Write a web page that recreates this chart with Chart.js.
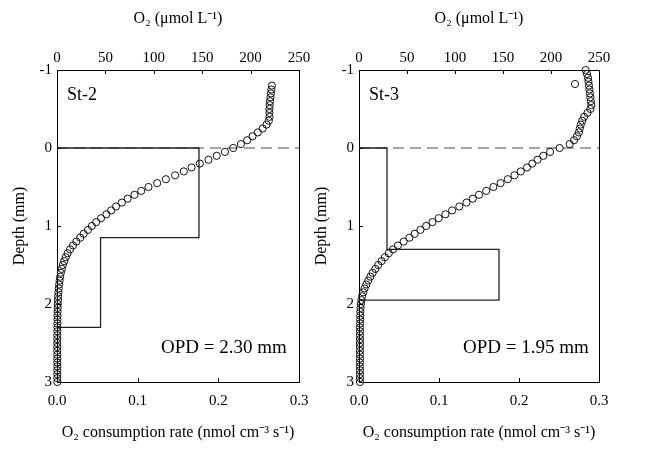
<!DOCTYPE html>
<html>
<head>
<meta charset="utf-8">
<script src="https://cdn.jsdelivr.net/npm/chart.js@4.4.1/dist/chart.umd.min.js"></script>
<style>
  html, body { margin: 0; padding: 0; background: #fff; }
  #wrap { position: relative; width: 646px; height: 451px; overflow: hidden; }
  canvas { position: absolute; top: 0; }
</style>
</head>
<body>
<div id="wrap">
  <canvas id="st2" width="322" height="451" style="left:0px"></canvas>
  <canvas id="st3" width="346" height="451" style="left:300px"></canvas>
</div>
<script>
// axis ranges
const depthRange = [-1, 3];
const o2Range = [0, 250];
const rateRange = [0, 0.3];

// St-2 O2 profile (depth mm, O2 umol/L)
const st2Depth = [
  -0.80, -0.75, -0.70, -0.65, -0.60, -0.55, -0.50, -0.45, -0.40, -0.35, -0.30, -0.25, -0.20, -0.15, -0.10, -0.05,
  0.00, 0.05, 0.10, 0.15, 0.20, 0.25, 0.30, 0.35, 0.40, 0.45, 0.50, 0.55, 0.60, 0.65, 0.70, 0.75, 0.80, 0.85, 0.90, 0.95,
  1.00, 1.05, 1.10, 1.15, 1.20, 1.25, 1.30, 1.35, 1.40, 1.45, 1.50, 1.55, 1.60, 1.65, 1.70, 1.75, 1.80, 1.85, 1.90, 1.95,
  2.00, 2.05, 2.10, 2.15, 2.20, 2.25, 2.30, 2.35, 2.40, 2.45, 2.50, 2.55, 2.60, 2.65, 2.70, 2.75, 2.80, 2.85, 2.90, 2.95,
  3.00
];
const st2O2 = [
  222, 221.5, 221, 220.5, 220, 219.7, 219.4, 219.4, 219.6, 218.8, 216.5, 212.5, 207.5, 202, 196.5, 190,
  182, 173.5, 165, 156.5, 147.5, 139, 131, 122, 112.5, 103.5, 94.5, 87, 80, 73, 67, 61, 56, 51, 45.5, 40.5,
  36, 32, 27.5, 24, 20, 16.5, 13.5, 11, 9, 7.5, 6, 5, 4, 3.3, 2.7, 2.2, 1.8, 1.5, 1.2, 1.0,
  0.8, 0.7, 0.6, 0.5, 0.5, 0.4, 0.4, 0.4, 0.3, 0.3, 0.3, 0.3, 0.3, 0.3, 0.3, 0.3, 0.3, 0.3, 0.3, 0.3,
  0.3
];
// St-2 consumption zones
const st2ZoneTop = [0, 1.15];
const st2ZoneBottom = [1.15, 2.30];
const st2ZoneRate = [0.176, 0.054];
const st2OPD = 2.30;

// St-3 O2 profile (last point is the odd one near the top)
const st3Depth = [
  -1.00, -0.95, -0.90, -0.85, -0.80, -0.75, -0.70, -0.65, -0.60, -0.55, -0.50, -0.45, -0.40, -0.35, -0.30, -0.25, -0.20, -0.15, -0.10, -0.05,
  0.00, 0.05, 0.10, 0.15, 0.20, 0.25, 0.30, 0.35, 0.40, 0.45, 0.50, 0.55, 0.60, 0.65, 0.70, 0.75, 0.80, 0.85, 0.90, 0.95,
  1.00, 1.05, 1.10, 1.15, 1.20, 1.25, 1.30, 1.35, 1.40, 1.45, 1.50, 1.55, 1.60, 1.65, 1.70, 1.75, 1.80, 1.85, 1.90, 1.95,
  2.00, 2.05, 2.10, 2.15, 2.20, 2.25, 2.30, 2.35, 2.40, 2.45, 2.50, 2.55, 2.60, 2.65, 2.70, 2.75, 2.80, 2.85, 2.90, 2.95,
  3.00, -0.82
];
const st3O2 = [
  236, 237.5, 238.5, 239, 239.5, 240, 240.5, 241, 241.5, 242, 241, 238, 234.5, 232.5, 231, 230, 229, 227, 224, 219.5,
  209, 199, 192, 186, 180.5, 175, 168.5, 162, 155, 147.5, 140, 132.5, 125, 118.5, 112, 104.5, 97, 90, 83, 76.5,
  70, 64, 58, 52.5, 46.5, 40.5, 35.5, 31, 27, 23.5, 20, 17, 14.2, 11.8, 9.6, 7.6, 5.8, 4.4, 3.3, 2.5,
  1.9, 1.6, 1.4, 1.3, 1.2, 1.1, 1.0, 1.0, 1.0, 1.0, 1.0, 1.0, 1.0, 1.0, 1.0, 1.0, 1.0, 1.0, 1.0, 1.0,
  1.0, 225
];
const st3ZoneTop = [0, 1.30];
const st3ZoneBottom = [1.30, 1.95];
const st3ZoneRate = [0.035, 0.175];
const st3OPD = 1.95;

const sedimentSurface = 0;

const SERIF = '"Liberation Serif", "Times New Roman", serif';

// short tick marks pointing into the plot
const innerTicks = {
  id: 'innerTicks',
  afterDraw(chart) {
    const {ctx, chartArea: a, scales} = chart;
    const len = 4;
    ctx.save();
    ctx.strokeStyle = '#000';
    ctx.lineWidth = 1;
    ctx.beginPath();
    scales.x.ticks.forEach(t => {
      const p = Math.round(scales.x.getPixelForValue(t.value)) + 0.5;
      if (p <= a.left + 2 || p >= a.right - 2) return;
      ctx.moveTo(p, a.bottom); ctx.lineTo(p, a.bottom - len);
    });
    scales.x2.ticks.forEach(t => {
      const p = Math.round(scales.x2.getPixelForValue(t.value)) + 0.5;
      if (p <= a.left + 2 || p >= a.right - 2) return;
      ctx.moveTo(p, a.top); ctx.lineTo(p, a.top + len);
    });
    scales.y.ticks.forEach(t => {
      const p = Math.round(scales.y.getPixelForValue(t.value)) + 0.5;
      if (p <= a.top + 2 || p >= a.bottom - 2) return;
      ctx.moveTo(a.left, p); ctx.lineTo(a.left + len, p);
    });
    ctx.stroke();
    ctx.restore();
  }
};

// station name and OPD text
const panelText = {
  id: 'panelText',
  afterDraw(chart, args, o) {
    const {ctx, chartArea: a} = chart;
    ctx.save();
    ctx.fillStyle = '#000';
    ctx.textBaseline = 'alphabetic';
    ctx.font = '18px ' + SERIF;
    ctx.fillText(o.station, a.left + 10, a.top + 30);
    ctx.font = '19px ' + SERIF;
    ctx.fillText('OPD = ' + o.opd.toFixed(2) + ' mm', a.left + 104, a.bottom - 29);
    ctx.restore();
  }
};

function stepPoints(tops, bottoms, rates) {
  const pts = [{x: 0, y: tops[0]}];
  rates.forEach((r, i) => {
    pts.push({x: r, y: tops[i]});
    pts.push({x: r, y: bottoms[i]});
  });
  pts.push({x: 0, y: bottoms[bottoms.length - 1]});
  return pts;
}

function makePanel(id, p) {
  const tickFont = {family: SERIF, size: 15};
  const titleFont = {family: SERIF, size: 16};
  return new Chart(document.getElementById(id), {
    type: 'scatter',
    data: {
      datasets: [
        {
          data: p.depth.map((d, i) => ({x: p.o2[i], y: d})),
          xAxisID: 'x2', yAxisID: 'y',
          pointRadius: 3.6, pointBorderWidth: 1,
          borderColor: '#111', backgroundColor: 'rgba(0,0,0,0)',
          clip: false, order: 0
        },
        {
          data: stepPoints(p.zoneTop, p.zoneBottom, p.zoneRate),
          xAxisID: 'x', yAxisID: 'y',
          showLine: true, pointRadius: 0,
          borderColor: '#222', borderWidth: 1.3, order: 1
        },
        {
          data: [{x: rateRange[0], y: sedimentSurface}, {x: rateRange[1], y: sedimentSurface}],
          xAxisID: 'x', yAxisID: 'y',
          showLine: true, pointRadius: 0,
          borderColor: '#4a4a4a', borderWidth: 1, borderDash: [11, 6], order: 2
        }
      ]
    },
    options: {
      responsive: false,
      animation: false,
      events: [],
      layout: {padding: {left: 0, right: p.padRight, top: 0, bottom: 0}},
      plugins: {
        legend: {display: false},
        tooltip: {enabled: false},
        panelText: {station: p.station, opd: p.opd}
      },
      scales: {
        x: {
          type: 'linear', position: 'bottom',
          min: rateRange[0], max: rateRange[1],
          ticks: {stepSize: 0.1, padding: 10, color: '#000', font: tickFont, callback: v => v.toFixed(1)},
          grid: {drawOnChartArea: false, drawTicks: false},
          border: {color: '#000', width: 1},
          title: {display: true, text: 'O₂ consumption rate (nmol cm⁻³ s⁻¹)', color: '#000', font: titleFont, padding: {top: 0, bottom: 9}},
          afterFit: s => { s.height = 69; }
        },
        x2: {
          type: 'linear', position: 'top',
          min: o2Range[0], max: o2Range[1],
          ticks: {stepSize: 50, padding: 3, color: '#000', font: tickFont},
          grid: {drawOnChartArea: false, drawTicks: false},
          border: {color: '#000', width: 1},
          title: {display: true, text: 'O₂ (μmol L⁻¹)', color: '#000', font: titleFont, padding: {top: 9, bottom: 0}},
          afterFit: s => { s.height = 70; }
        },
        y: {
          type: 'linear', position: 'left', reverse: true,
          min: depthRange[0], max: depthRange[1],
          ticks: {stepSize: 1, padding: 5, color: '#000', font: tickFont},
          grid: {drawOnChartArea: false, drawTicks: false},
          border: {color: '#000', width: 1},
          title: {display: true, text: 'Depth (mm)', color: '#000', font: titleFont, padding: {top: p.yTitlePad, bottom: 0}},
          afterFit: s => { s.width = p.leftWidth; }
        },
        y2: {
          type: 'linear', position: 'right',
          min: depthRange[0], max: depthRange[1],
          ticks: {display: false},
          grid: {drawOnChartArea: false, drawTicks: false},
          border: {color: '#000', width: 1},
          afterFit: s => { s.width = 0; }
        }
      }
    },
    plugins: [innerTicks, panelText]
  });
}

makePanel('st2', {
  station: 'St-2', opd: st2OPD,
  depth: st2Depth, o2: st2O2,
  zoneTop: st2ZoneTop, zoneBottom: st2ZoneBottom, zoneRate: st2ZoneRate,
  leftWidth: 57, padRight: 23, yTitlePad: 10
});

makePanel('st3', {
  station: 'St-3', opd: st3OPD,
  depth: st3Depth, o2: st3O2,
  zoneTop: st3ZoneTop, zoneBottom: st3ZoneBottom, zoneRate: st3ZoneRate,
  leftWidth: 59, padRight: 47, yTitlePad: 12
});
</script>
</body>
</html>
